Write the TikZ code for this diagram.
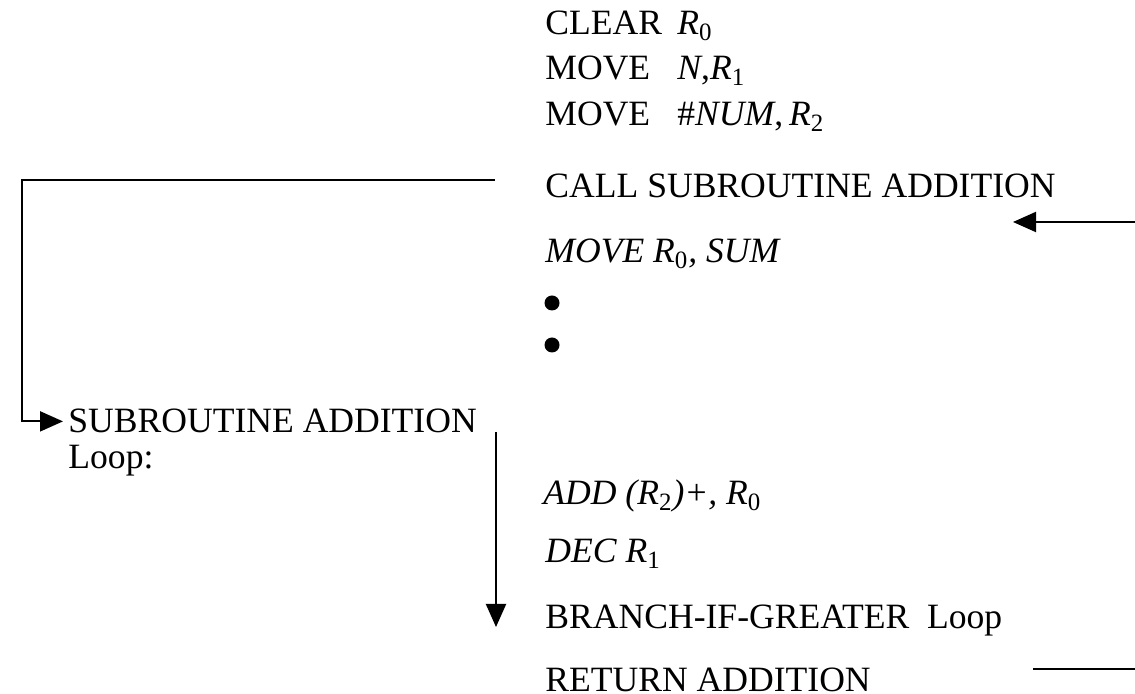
\documentclass[tikz,border=0pt]{standalone}
\usepackage{fontspec}
\setmainfont{Liberation Serif}
\usetikzlibrary{arrows.meta,positioning}
\newcommand{\regR}[1]{\textit{R}\textsubscript{\upshape #1}}
\newcommand{\opname}[1]{\makebox[66pt][l]{#1}}

\begin{document}
\begin{tikzpicture}[x=0.5pt, y=-0.5pt, every node/.style={font=\fontsize{17.8}{20}\selectfont, inner sep=0pt, anchor=base west}]
\tikzset{dot/.style={circle, fill, minimum size=7.5pt, anchor=center}}
\tikzset{arrow/.style={-{Triangle[length=11.5pt, width=10pt]}, line width=1pt}}
\useasboundingbox (0,0) rectangle (1135,694);
% main program
\node (clear) at (545,35) {\opname{CLEAR}\regR{0}};
\node (moven) at (545,80) {\opname{MOVE}\textit{N},\regR{1}};
\node (movenum) at (545,126) {\opname{MOVE}\#\textit{NUM},\,\regR{2}};
\node (call) at (545,198) {CALL SUBROUTINE ADDITION};
\node (movesum) at (545,263) {\textit{MOVE \regR{0}, SUM}};
\node[dot] (dot1) at (552,303) {};
\node[dot] (dot2) at (552,345) {};
% subroutine
\node (sub) at (68,433) {SUBROUTINE ADDITION};
\node (loop) at (68,469) {Loop:};
\node (add) at (543,505) {\textit{ADD (\regR{2})+, \regR{0}}};
\node (dec) at (545,563) {\textit{DEC \regR{1}}};
\node (branch) at (545,629) {BRANCH-IF-GREATER\hspace{0.5em}Loop};
\node (ret) at (545,691) {RETURN ADDITION};
% connectors
\coordinate (callout) at (495,180);
\coordinate (corner) at (22,180);
\coordinate (flowtop) at (496,432);
\coordinate (flowend) at (496,627);
\coordinate (backin) at (1135,222);
\coordinate (backtip) at (1013,222);
\coordinate (retout) at (1033,669);
\coordinate (retend) at (1135,669);
\draw[arrow] (callout) -- (corner) |- ([xshift=-2.5pt]sub.west);
\draw[arrow] (flowtop) -- (flowend);
\draw[arrow] (backin) -- (backtip);
\draw[line width=1pt] (retout) -- (retend);
\end{tikzpicture}
\end{document}
